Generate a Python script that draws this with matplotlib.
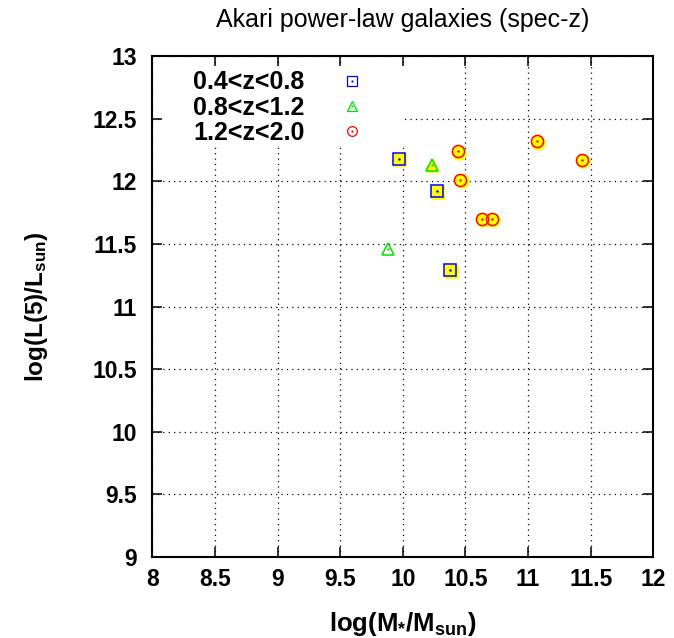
import matplotlib
matplotlib.use("Agg")
import matplotlib.pyplot as plt
from matplotlib.lines import Line2D
from matplotlib.patches import Rectangle
from matplotlib.legend_handler import HandlerTuple
from matplotlib.transforms import offset_copy

plt.rcParams['font.family'] = ['Liberation Sans', 'DejaVu Sans']
plt.rcParams['mathtext.fontset'] = 'custom'
plt.rcParams['mathtext.rm'] = 'Liberation Sans:bold'
plt.rcParams['mathtext.it'] = 'Liberation Sans:bold'
plt.rcParams['mathtext.bf'] = 'Liberation Sans:bold'

# log stellar mass / log 5 micron luminosity, per redshift bin
low_z_mass = [9.97, 10.27, 10.38]
low_z_lum = [12.18, 11.92, 11.29]
low_z_flag = [True, True, True]

mid_z_mass = [10.23, 9.88]
mid_z_lum = [12.13, 11.46]
mid_z_flag = [True, False]

high_z_mass = [10.44, 10.46, 10.63, 10.71, 11.07, 11.43]
high_z_lum = [12.24, 12.01, 11.70, 11.70, 12.32, 12.17]
high_z_flag = [True, True, True, True, True, True]

bin_labels = ['0.4<z<0.8', '0.8<z<1.2', '1.2<z<2.0']
bin_colors = ['#0000ff', '#00e000', '#ff0000']
bin_markers = ['s', '^', 'o']
bin_sizes = [8, 8, 8.7]

x_ticks = [8, 8.5, 9, 9.5, 10, 10.5, 11, 11.5, 12]
y_ticks = [9, 9.5, 10, 10.5, 11, 11.5, 12, 12.5, 13]

fig = plt.figure(figsize=(6.74, 6.38), dpi=100)
ax = fig.add_axes([0.2260, 0.1270, 0.7434, 0.7848])
ax.set_xlim(8, 12)
ax.set_ylim(9, 13)
ax.set_axisbelow(True)

groups = [
    (low_z_mass, low_z_lum, low_z_flag),
    (mid_z_mass, mid_z_lum, mid_z_flag),
    (high_z_mass, high_z_lum, high_z_flag),
]

# yellow shadow slightly down-right of flagged points
shadow = offset_copy(ax.transData, fig=fig, x=1.3, y=-1.3, units='dots')
handles = []
for (xs, ys, flags), col, mk, ms in zip(groups, bin_colors, bin_markers, bin_sizes):
    fx = [x for x, f in zip(xs, flags) if f]
    fy = [y for y, f in zip(ys, flags) if f]
    ax.plot(fx, fy, ls='none', marker=mk, ms=ms + 0.5, mfc='#ffff00', mec='#ffff00',
            mew=1.4, transform=shadow, zorder=3)
    ax.plot(xs, ys, ls='none', marker=mk, ms=ms, mfc='none', mec=col, mew=1.1, zorder=4)
    ax.plot(xs, ys, ls='none', marker='.', ms=1.5, color=col, zorder=5)
    h_open = Line2D([], [], ls='none', marker=mk, ms=7, mfc='none', mec=col, mew=0.9)
    h_dot = Line2D([], [], ls='none', marker='.', ms=1.2, color=col)
    handles.append((h_open, h_dot))

# opaque key area over the grid
ax.add_patch(Rectangle((0.022, 0.819), 0.482, 0.159, transform=ax.transAxes,
                       facecolor='white', edgecolor='none', zorder=1))

leg = ax.legend(handles, bin_labels, loc='upper left', bbox_to_anchor=(0.061, 0.992),
                markerfirst=False, frameon=False,
                handler_map={tuple: HandlerTuple(ndivide=1, pad=0)},
                prop={'size': 18, 'weight': 'bold'}, handlelength=1.0, handletextpad=1.4,
                labelspacing=0.05, borderaxespad=0)

ax.set_xticks(x_ticks)
ax.set_yticks(y_ticks)
ax.set_xticklabels([f'{v:g}' for v in x_ticks])
ax.set_yticklabels([f'{v:g}' for v in y_ticks])
ax.grid(True, color='black', lw=0.9, linestyle=(0, (1.0, 3.3)))
ax.tick_params(direction='in', length=7, width=1.1, top=True, right=True,
               labelsize=16.5)
ax.tick_params(axis='x', pad=8)
ax.tick_params(axis='y', pad=11)
for lbl in ax.get_xticklabels() + ax.get_yticklabels():
    lbl.set_fontweight('bold')
for sp in ax.spines.values():
    sp.set_linewidth(1.5)

ax.set_title('Akari power-law galaxies (spec-z)', fontsize=18, pad=21)
ax.set_xlabel(r'log(M$_{*}$/M$_{\rm sun}$)', fontsize=18.5, fontweight='bold')
ax.set_ylabel(r'log(L(5)/L$_{\rm sun}$)', fontsize=17.5, fontweight='bold')
ax.xaxis.set_label_coords(0.5, -0.105)
ax.yaxis.set_label_coords(-0.205, 0.5)

fig.savefig('out.png', dpi=100)
